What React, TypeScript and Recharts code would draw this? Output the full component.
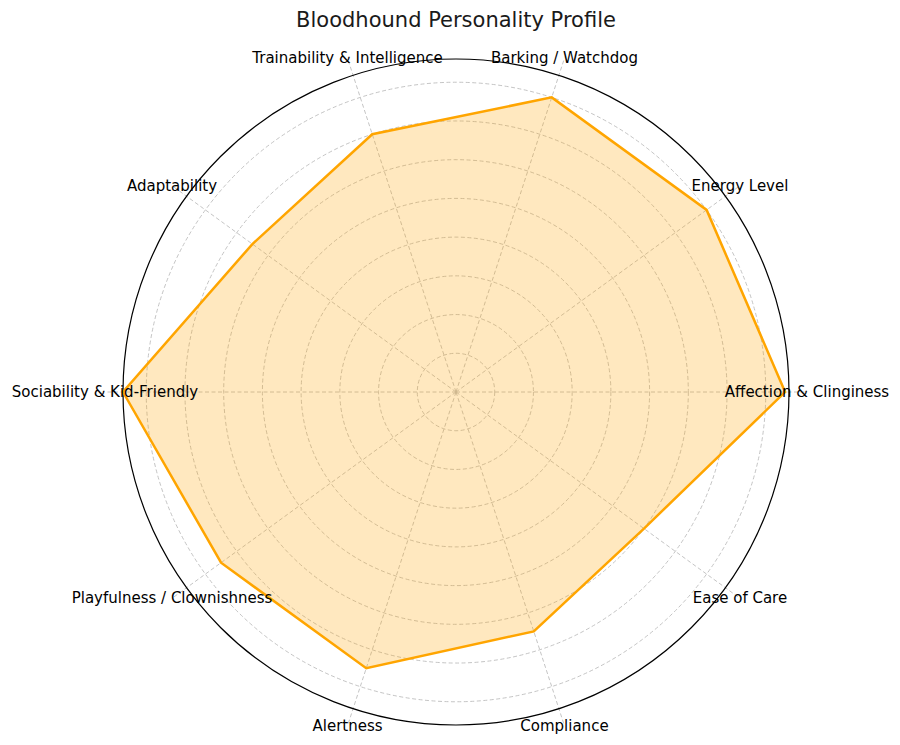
import React from 'react';
import { RadarChart, Radar, PolarGrid, PolarAngleAxis, PolarRadiusAxis } from 'recharts';

const TRAITS = [
  'Affection & Clinginess',
  'Energy Level',
  'Barking / Watchdog',
  'Trainability & Intelligence',
  'Adaptability',
  'Sociability & Kid-Friendly',
  'Playfulness / Clownishness',
  'Alertness',
  'Compliance',
  'Ease of Care',
];

const SCORES = [8.5, 8.0, 8.0, 7.0, 6.5, 8.6, 7.5, 7.5, 6.5, 6.0];

const RING_TICKS = [1, 2, 3, 4, 5, 6, 7, 8];
const R_MAX = 8.6;
// recharts rounds the radius domain up to a nice 0..9 here (domain prop is not honoured),
// so the scale range is stretched to keep R_MAX on the frame circle
const NICE_MAX = 9;

const WIDTH = 900;
const HEIGHT = 745;
const CX = 456;
const CY = 392;
const OUTER_R = 333;
const SCALE_R = (OUTER_R * NICE_MAX) / R_MAX;
const LABEL_R = 351;

const FONT = "'DejaVu Sans', sans-serif";

// numeric angle position per trait, so radar and axis share one linear scale
const TRAIT_IDX = TRAITS.map((_, i) => i);

const chartData = TRAITS.map((trait, i) => ({ idx: i, trait, value: SCORES[i] }));

// ring radii in px, from the radius scale
const ringRadii = RING_TICKS.map((v) => (v / NICE_MAX) * SCALE_R);

const AngleTick = (props: any) => {
  const { x, y, payload } = props;
  return (
    <text
      x={x}
      y={y}
      textAnchor="middle"
      dominantBaseline="central"
      fontSize={15}
      fontFamily={FONT}
      fill="#000"
    >
      {TRAITS[payload.value]}
    </text>
  );
};

export default function App() {
  return (
    <div style={{ position: 'absolute', left: 0, top: 0, width: WIDTH, height: HEIGHT, background: '#fff' }}>
      <div
        style={{
          position: 'absolute',
          left: CX - 300,
          top: 7,
          width: 600,
          textAlign: 'center',
          fontFamily: FONT,
          fontSize: 21,
          lineHeight: '26px',
          color: '#1a1a1a',
        }}
      >
        Bloodhound Personality Profile
      </div>
      <RadarChart
        width={WIDTH}
        height={HEIGHT}
        data={chartData}
        cx={CX}
        cy={CY}
        outerRadius={SCALE_R}
        startAngle={0}
        endAngle={360}
        margin={{ top: 0, right: 0, bottom: 0, left: 0 }}
      >
        <PolarGrid
          gridType="circle"
          outerRadius={OUTER_R}
          polarRadius={ringRadii}
          stroke="#bdbdbd"
          strokeDasharray="4 2.5"
          strokeWidth={0.9}
        />
        <PolarRadiusAxis
          type="number"
          domain={[0, NICE_MAX]}
          tick={false}
          axisLine={false}
        />
        <Radar
          dataKey="value"
          stroke="#FFA500"
          strokeWidth={2.5}
          fill="#FFA500"
          fillOpacity={0.25}
          dot={false}
          isAnimationActive={false}
        />
        <PolarGrid
          gridType="circle"
          outerRadius={OUTER_R}
          polarRadius={[OUTER_R]}
          radialLines={false}
          stroke="#000"
          strokeWidth={1.2}
        />
        <PolarAngleAxis
          dataKey="idx"
          type="number"
          domain={[0, TRAITS.length]}
          allowDataOverflow
          ticks={TRAIT_IDX}
          axisLine={false}
          tickLine={false}
          tickSize={LABEL_R - SCALE_R}
          tick={<AngleTick />}
        />
      </RadarChart>
    </div>
  );
}
